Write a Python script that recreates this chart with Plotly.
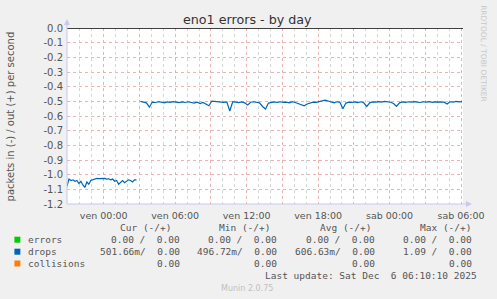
import plotly.graph_objects as go
import pandas as pd

# ---- data ----
seg1_start = "2025-12-04 20:55"
seg1_step_min = 10
drops_seg1 = [
    -1.080, -1.030, -1.040, -1.035, -1.045, -1.040, -1.060, -1.045, -1.070, -1.087,
    -1.050, -1.065, -1.040, -1.035, -1.028, -1.025, -1.027, -1.025, -1.026, -1.025,
    -1.030, -1.028, -1.035, -1.030, -1.045, -1.040, -1.065, -1.050, -1.040, -1.055,
    -1.045, -1.035, -1.040, -1.050, -1.035, -1.035,
]

seg2_start = "2025-12-05 03:05"
seg2_step_min = 15
drops_seg2 = [
    -0.500, -0.505, -0.510, -0.540,
    -0.505, -0.508, -0.503, -0.506,
    -0.510, -0.504, -0.507, -0.502,
    -0.506, -0.509, -0.504, -0.508,
    -0.503, -0.507, -0.512, -0.505,
    -0.515, -0.508, -0.520, -0.530,
    -0.498, -0.500, -0.505, -0.502,
    -0.507, -0.504, -0.566, -0.503,
    -0.506, -0.509, -0.504, -0.510,
    -0.525, -0.506, -0.503, -0.508,
    -0.510, -0.535, -0.552, -0.512,
    -0.506, -0.504, -0.508, -0.503,
    -0.507, -0.505, -0.510, -0.502,
    -0.508, -0.515, -0.522, -0.530,
    -0.518, -0.510, -0.505, -0.507,
    -0.503, -0.500, -0.492, -0.498,
    -0.505, -0.510, -0.503, -0.507,
    -0.550, -0.512, -0.505, -0.508,
    -0.504, -0.509, -0.503, -0.510,
    -0.535, -0.510, -0.504, -0.506,
    -0.502, -0.505, -0.500, -0.503,
    -0.506, -0.515, -0.535, -0.510,
    -0.504, -0.507, -0.503, -0.506,
    -0.502, -0.505, -0.508, -0.503,
    -0.506, -0.502, -0.507, -0.504,
    -0.505, -0.510, -0.506, -0.518,
    -0.503, -0.506, -0.500, -0.504,
    -0.502,
]

x_start = "2025-12-04 20:55"
x_end = "2025-12-06 06:10"

x_tick_times = ["2025-12-05 00:00", "2025-12-05 03:00", "2025-12-05 06:00", "2025-12-05 09:00",
                "2025-12-05 12:00", "2025-12-05 15:00", "2025-12-05 18:00", "2025-12-05 21:00",
                "2025-12-06 00:00", "2025-12-06 03:00", "2025-12-06 06:00"]
x_tick_labels = ["ven 00:00", "", "ven 06:00", "", "ven 12:00", "", "ven 18:00", "",
                 "sab 00:00", "", "sab 06:00"]

y_ticks = [0.0, -0.1, -0.2, -0.3, -0.4, -0.5, -0.6, -0.7, -0.8, -0.9, -1.0, -1.1, -1.2]
y_tick_labels = ["%.1f" % v if v != 0 else "0.0" for v in y_ticks]

title = "eno1 errors - by day"
y_title = "packets in (-) / out (+) per second"

legend_names = ["errors", "drops", "collisions"]
legend_colors = ["#00CC00", "#0066B3", "#FF8000"]
legend_cur = ["0.00 /  0.00", "501.66m/  0.00", "0.00"]
legend_min = ["0.00 /  0.00", "496.72m/  0.00", "0.00"]
legend_avg = ["0.00 /  0.00", "606.63m/  0.00", "0.00"]
legend_max = ["0.00 /  0.00", "1.09 /  0.00", "0.00"]
legend_headers = ["Cur (-/+)", "Min (-/+)", "Avg (-/+)", "Max (-/+)"]
last_update = "Last update: Sat Dec  6 06:10:10 2025"
footer = "Munin 2.0.75"
side_text = "RRDTOOL / TOBI OETIKER"

# ---- figure ----
W, H = 497, 299
L, R, T, B = 67, 31, 28, 95

t1 = pd.date_range(seg1_start, periods=len(drops_seg1), freq=f"{seg1_step_min}min")
t2 = pd.date_range(seg2_start, periods=len(drops_seg2), freq=f"{seg2_step_min}min")

fig = go.Figure()
fig.add_trace(go.Scatter(x=list(t1), y=drops_seg1, mode="lines",
                         line=dict(color="#0066B3", width=1.2), showlegend=False,
                         hoverinfo="skip"))
fig.add_trace(go.Scatter(x=list(t2), y=drops_seg2, mode="lines",
                         line=dict(color="#0066B3", width=1.2), showlegend=False,
                         hoverinfo="skip"))
# zero line (out values)
fig.add_trace(go.Scatter(x=[x_start, x_end], y=[0, 0], mode="lines",
                         line=dict(color="#000000", width=1.5), showlegend=False,
                         hoverinfo="skip", cliponaxis=False))

grid_major = "#E8B4B4"
grid_minor = "#D6D6D6"
tickfont = dict(family="DejaVu Sans", size=9.5, color="#555555")

fig.update_xaxes(
    type="date", range=[x_start, x_end],
    tickmode="array", tickvals=x_tick_times, ticktext=x_tick_labels,
    showgrid=True, gridcolor=grid_major, griddash="dot", gridwidth=1,
    minor=dict(dtick=3600000, tick0="2025-12-05 00:00", showgrid=True,
               gridcolor=grid_minor, griddash="dot", gridwidth=1),
    showline=False, zeroline=False, ticks="", tickfont=tickfont,
    ticklabelstandoff=4,
)
fig.update_yaxes(
    range=[-1.2, 0.0], tickmode="array", tickvals=y_ticks, ticktext=y_tick_labels,
    showgrid=True, gridcolor=grid_major, griddash="dot", gridwidth=1,
    showline=False, zeroline=False, ticks="", tickfont=dict(family="DejaVu Sans", size=10, color="#555555"),
    ticklabelstandoff=3,
)

def px_x(px):
    return (px - L) / (W - L - R)

def px_y(py):
    return 1 - (py - T) / (H - T - B)

axis_col = "#C8C8F0"
shapes = [
    # left axis
    dict(type="line", xref="paper", yref="paper", x0=0, x1=0, y0=0, y1=px_y(24),
         line=dict(color=axis_col, width=1)),
    # bottom axis
    dict(type="line", xref="paper", yref="paper", x0=0, x1=px_x(470), y0=0, y1=0,
         line=dict(color=axis_col, width=1)),
    # arrows
    dict(type="path", xref="paper", yref="paper",
         path=f"M {px_x(64)} {px_y(25)} L {px_x(70)} {px_y(25)} L {px_x(67)} {px_y(19)} Z",
         fillcolor=axis_col, line=dict(width=0)),
    dict(type="path", xref="paper", yref="paper",
         path=f"M {px_x(469)} {px_y(201)} L {px_x(469)} {px_y(207)} L {px_x(475)} {px_y(204)} Z",
         fillcolor=axis_col, line=dict(width=0)),
]

ann = []
ann.append(dict(text=title, x=px_x(248.5), y=px_y(19), xref="paper", yref="paper",
                xanchor="center", yanchor="middle", showarrow=False,
                font=dict(family="DejaVu Sans", size=12.7, color="#333333")))
ann.append(dict(text=y_title, x=px_x(10), y=px_y(116), xref="paper", yref="paper",
                xanchor="center", yanchor="middle", showarrow=False, textangle=-90,
                font=dict(family="DejaVu Sans", size=10, color="#555555")))
ann.append(dict(text=side_text, x=px_x(487), y=px_y(54), xref="paper", yref="paper",
                xanchor="center", yanchor="middle", showarrow=False, textangle=90,
                font=dict(family="DejaVu Sans", size=7.5, color="#C8C8C8")))

mono = dict(family="DejaVu Sans Mono", size=9.5, color="#555555")
header_right = [174, 274, 375, 476]
for h, xr in zip(legend_headers, header_right):
    ann.append(dict(text=h, x=px_x(xr), y=px_y(227.5), xref="paper", yref="paper",
                    xanchor="right", yanchor="middle", showarrow=False, font=mono))
row_y = [239.7, 251.7, 263.5]
col_right = [183, 281, 379, 477]
for i, name in enumerate(legend_names):
    y = px_y(row_y[i])
    shapes.append(dict(type="rect", xref="paper", yref="paper",
                       x0=px_x(14), x1=px_x(20), y0=px_y(row_y[i] - 3), y1=px_y(row_y[i] + 3),
                       fillcolor=legend_colors[i], line=dict(width=0)))
    ann.append(dict(text=name, x=px_x(26), y=y, xref="paper", yref="paper",
                    xanchor="left", yanchor="middle", showarrow=False, font=mono))
    for vals, xr in zip([legend_cur, legend_min, legend_avg, legend_max], col_right):
        ann.append(dict(text=vals[i].replace(" ", "&nbsp;"), x=px_x(xr), y=y, xref="paper", yref="paper",
                        xanchor="right", yanchor="middle", showarrow=False, font=mono))
ann.append(dict(text=last_update.replace(" ", "&nbsp;"), x=px_x(482.5), y=px_y(275.7), xref="paper", yref="paper",
                xanchor="right", yanchor="middle", showarrow=False, font=mono))
ann.append(dict(text=footer, x=px_x(248.5), y=px_y(288.5), xref="paper", yref="paper",
                xanchor="center", yanchor="middle", showarrow=False,
                font=dict(family="DejaVu Sans", size=8, color="#C0C0C0")))

fig.update_layout(
    width=W, height=H, margin=dict(l=L, r=R, t=T, b=B, pad=0),
    paper_bgcolor="#F0F0F0", plot_bgcolor="#FFFFFF",
    shapes=shapes, annotations=ann, showlegend=False,
)

fig.write_html("out.html", config=dict(displayModeBar=False))
